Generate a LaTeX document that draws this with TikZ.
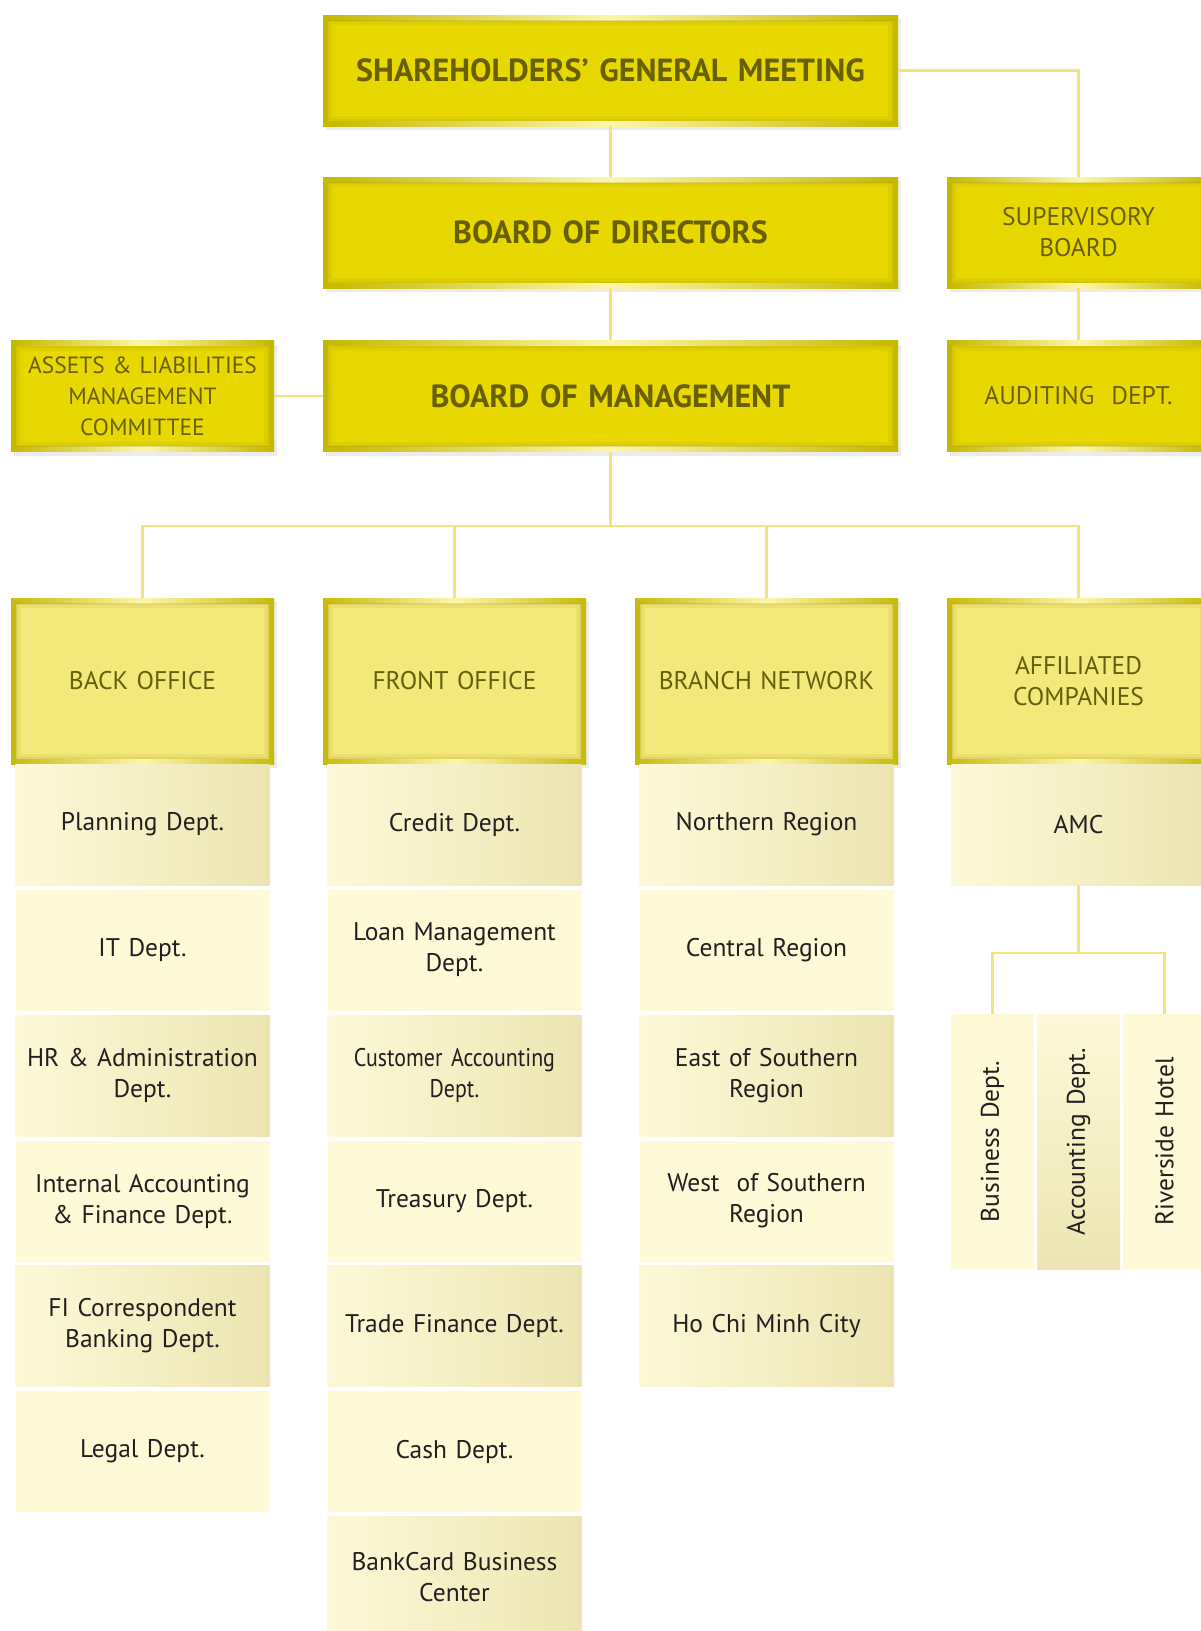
\documentclass[tikz,border=0pt]{standalone}
\usepackage{fontspec}
\setmainfont{PT Sans}[WordSpace=0.8]
\newfontfamily\narrowfont[FakeStretch=0.86, WordSpace=0.8]{PT Sans}
\usepackage{graphicx}
\usepackage{tikz}
\usetikzlibrary{shadows}

\definecolor{topface}{RGB}{230,216,0}
\definecolor{topframe}{RGB}{197,184,0}
\definecolor{toptext}{RGB}{104,96,0}
\definecolor{gleam}{RGB}{253,246,170}
\definecolor{groupface}{RGB}{243,232,122}
\definecolor{groupframe}{RGB}{200,186,12}
\definecolor{grouptext}{RGB}{100,95,14}
\definecolor{rowlight}{RGB}{253,249,216}
\definecolor{rowdark}{RGB}{236,229,178}
\definecolor{rowpale}{RGB}{254,250,215}
\definecolor{depttext}{RGB}{35,31,32}
\definecolor{linkyellow}{RGB}{243,227,122}

\begin{document}
\begin{tikzpicture}[x=1pt, y=-1pt]
      \tikzset{bevel/.style 2 args={path picture={
        \fill[#1, even odd rule]
          (path picture bounding box.south west) rectangle (path picture bounding box.north east)
          ([shift={(#2,#2)}]path picture bounding box.south west) rectangle ([shift={(-#2,-#2)}]path picture bounding box.north east);
        \shade[left color=#1, right color=#1, middle color=gleam]
          (path picture bounding box.north west) rectangle ([yshift=-#2]path picture bounding box.north east);
        \shade[left color=#1, right color=#1, middle color=gleam]
          ([yshift=#2]path picture bounding box.south west) rectangle (path picture bounding box.south east);
        \draw[#1!75!black, line width=2pt, opacity=.2]
          ([shift={(#2+1pt,#2+1pt)}]path picture bounding box.south west) rectangle ([shift={(-#2-1pt,-#2-1pt)}]path picture bounding box.north east);
        \draw[#1!75!black, line width=3pt, opacity=.09]
          ([shift={(#2+3.5pt,#2+3.5pt)}]path picture bounding box.south west) rectangle ([shift={(-#2-3.5pt,-#2-3.5pt)}]path picture bounding box.north east);
      }}}

      \tikzstyle{board} = [
        rectangle,
        fill=topface,
        text=toptext,
        inner sep=0pt,
        text width=263pt,
        text centered,
        minimum height=111pt,
        font=\fontsize{25.5}{31}\selectfont,
        bevel={topframe}{5pt},
        drop shadow={shadow xshift=3pt, shadow yshift=-4pt, opacity=.15}
      ]

      \tikzstyle{headline} = [
        board,
        text width=575pt,
        font=\fontsize{32}{36}\selectfont\bfseries
      ]

      \tikzstyle{office} = [
        rectangle,
        fill=groupface,
        text=grouptext,
        inner sep=0pt,
        text width=263pt,
        text centered,
        minimum height=166pt,
        font=\fontsize{25.5}{31}\selectfont,
        bevel={groupframe}{5pt},
        drop shadow={shadow xshift=3pt, shadow yshift=-4pt, opacity=.15}
      ]

      \tikzstyle{dept} = [
        rectangle,
        text=depttext,
        inner sep=0pt,
        text width=254pt,
        text centered,
        minimum height=121pt,
        font=\fontsize{25.5}{31}\selectfont
      ]

      \tikzstyle{shaded dept} = [dept, left color=rowlight, right color=rowdark]
      \tikzstyle{plain dept} = [dept, fill=rowpale]
      \tikzstyle{unit} = [dept, text width=83pt, minimum height=255pt]

      \tikzstyle{link} = [draw=linkyellow, line width=2.6pt]

      \path[use as bounding box, fill=white] (0,0) rectangle (1201,1631);

      \node[headline] (meeting) at (610.5,70.5) {SHAREHOLDERS’ GENERAL MEETING};
      \node[headline] (directors) at (610.5,232.5) {BOARD OF DIRECTORS};
      \node[headline] (management) at (610.5,396) {BOARD OF MANAGEMENT};
      \node[board, font=\fontsize{23.5}{31}\selectfont] (alco) at (142.5,396) {ASSETS \& LIABILITIES\\ MANAGEMENT\\ COMMITTEE};
      \node[board] (supervisory) at (1078.5,232.5) {SUPERVISORY\\ BOARD};
      \node[board] (auditing) at (1078.5,396) {AUDITING~~DEPT.};

      \node[office] (back) at (142.5,681) {BACK OFFICE};
      \node[office] (front) at (454.5,681) {FRONT OFFICE};
      \node[office] (branch) at (766.5,681) {BRANCH NETWORK};
      \node[office] (affiliated) at (1078.5,681) {AFFILIATED\\ COMPANIES};

      % back office
      \node[shaded dept] (planning) at (142.5,824.5) {Planning Dept.};
      \node[plain dept] (it) at (142.5,950) {IT Dept.};
      \node[shaded dept] (hr) at (142.5,1075.5) {HR \& Administration\\ Dept.};
      \node[plain dept] (internal) at (142.5,1201) {Internal Accounting\\ \& Finance Dept.};
      \node[shaded dept] (fi) at (142.5,1326) {FI Correspondent\\ Banking Dept.};
      \node[plain dept] (legal) at (142.5,1451.5) {Legal Dept.};

      % front office
      \node[shaded dept] (credit) at (454.5,824.5) {Credit Dept.};
      \node[plain dept] (loan) at (454.5,950) {Loan Management\\ Dept.};
      \node[shaded dept, font=\narrowfont\fontsize{25.5}{31}\selectfont] (customer) at (454.5,1075.5) {Customer Accounting\\ Dept.};
      \node[plain dept] (treasury) at (454.5,1201) {Treasury Dept.};
      \node[shaded dept] (trade) at (454.5,1326) {Trade Finance Dept.};
      \node[plain dept] (cash) at (454.5,1451.5) {Cash Dept.};
      \node[shaded dept] (bankcard) at (454.5,1577) {BankCard Business\\ Center};

      % branch network
      \node[shaded dept] (northern) at (766.5,824.5) {Northern Region};
      \node[plain dept] (central) at (766.5,950) {Central Region};
      \node[shaded dept] (east) at (766.5,1075.5) {East of Southern\\ Region};
      \node[plain dept] (west) at (766.5,1201) {West~~of Southern\\ Region};
      \node[shaded dept] (hcmc) at (766.5,1326) {Ho Chi Minh City};

      % affiliated companies
      \node[shaded dept] (amc) at (1078.5,824.5) {AMC};
      \node[unit, fill=rowpale] (business) at (992.5,1141.5) {\rotatebox{90}{Business Dept.}};
      \node[unit, top color=rowlight, bottom color=rowdark] (accounting) at (1078.5,1141.5) {\rotatebox{90}{Accounting Dept.}};
      \node[unit, fill=rowpale] (riverside) at (1164.5,1141.5) {\rotatebox{90}{Riverside Hotel}};

      \coordinate (bus) at (610.5,526);
      \coordinate (fork) at (1078.5,953);

      \draw[link] (meeting) -- (directors);
      \draw[link] (directors) -- (management);
      \draw[link] (meeting) -| (supervisory);
      \draw[link] (supervisory) -- (auditing);
      \draw[link] (alco) -- (management);
      \draw[link] (management) -- (bus);
      \draw[link] (back) |- (bus) -| (affiliated);
      \draw[link] (front) -- (front |- bus);
      \draw[link] (branch) -- (branch |- bus);
      \draw[link] (amc) -- (fork);
      \draw[link] (business) |- (fork) -| (riverside);
\end{tikzpicture}
\end{document}
